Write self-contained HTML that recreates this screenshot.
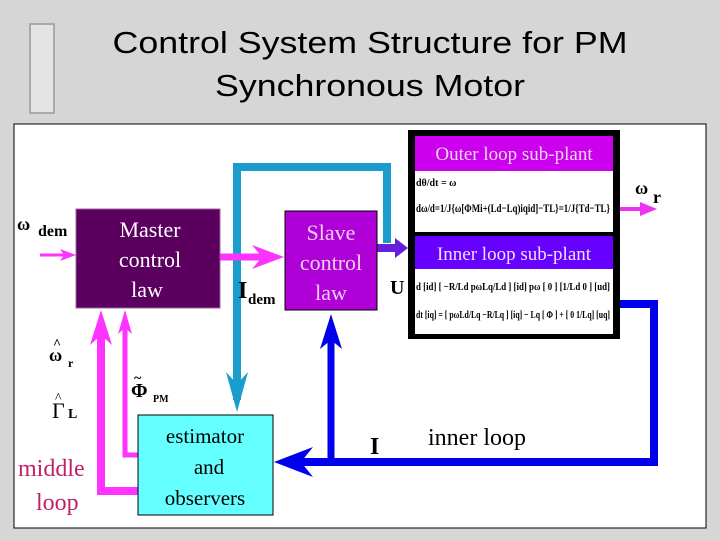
<!DOCTYPE html>
<html><head><meta charset="utf-8"><style>
html,body{margin:0;padding:0;width:720px;height:540px;overflow:hidden;background:#d9d9d9;}
svg{display:block}
</style></head><body>
<svg width="720" height="540" viewBox="0 0 720 540" xmlns="http://www.w3.org/2000/svg" font-family="Liberation Serif, serif">
<rect width="720" height="540" fill="#d6d6d6"/>
<rect x="30" y="24" width="24" height="89" fill="#e4e4e4" stroke="#aaa" stroke-width="2"/>
<text x="370" y="53" font-family="Liberation Sans, sans-serif" font-size="31" text-anchor="middle" fill="#000" textLength="515" lengthAdjust="spacingAndGlyphs">Control System Structure for PM</text>
<text x="370" y="96" font-family="Liberation Sans, sans-serif" font-size="31" text-anchor="middle" fill="#000" textLength="310" lengthAdjust="spacingAndGlyphs">Synchronous Motor</text>
<rect x="14" y="124" width="692" height="404" fill="#fff" stroke="#000" stroke-width="1"/>

<polyline points="237,400 237,167 387,167 387,243" fill="none" stroke="#1a9ccc" stroke-width="8"/>
<polygon points="226,372 237,412 248,372 237,384" fill="#1a9ccc"/>

<polyline points="620,304 654,304 654,462 290,462" fill="none" stroke="#0000ee" stroke-width="8"/>
<polygon points="274,462 313,447 301,462 313,477" fill="#0000ee"/>
<line x1="331" y1="462" x2="331" y2="330" stroke="#0000ee" stroke-width="7"/>
<polygon points="320,349 331,314 342,349 331,340" fill="#0000ee"/>

<polyline points="138,491 101,491 101,325" fill="none" stroke="#ff33ff" stroke-width="8"/>
<polygon points="90,345 101,310 112,345 101,335" fill="#ff33ff"/>
<polyline points="138,455 125,455 125,320" fill="none" stroke="#ff33ff" stroke-width="5"/>
<polygon points="118,334 125,310 132,334 125,328" fill="#ff33ff"/>

<line x1="40" y1="255" x2="70" y2="255" stroke="#ff33ff" stroke-width="3"/>
<polygon points="60,249 76,255 60,261 64,255" fill="#ff33ff"/>
<line x1="220" y1="257" x2="270" y2="257" stroke="#ff33ff" stroke-width="7"/>
<polygon points="252,245 284,257 252,269 262,257" fill="#ff33ff"/>
<line x1="377" y1="248" x2="398" y2="248" stroke="#6620dd" stroke-width="8"/>
<polygon points="395,238 408,248 395,258" fill="#6620dd"/>
<line x1="620" y1="209" x2="645" y2="209" stroke="#ee33ee" stroke-width="4"/>
<polygon points="640,202 657,209 640,216" fill="#ee33ee"/>

<rect x="76" y="209" width="144" height="99" fill="#5c0060" stroke="#a060a0" stroke-width="1"/>
<text x="150" y="237" font-size="22" fill="#fff" text-anchor="middle">Master</text>
<text x="150" y="267" font-size="22" fill="#fff" text-anchor="middle">control</text>
<text x="147" y="297" font-size="22" fill="#fff" text-anchor="middle">law</text>

<rect x="285" y="211" width="92" height="99" fill="#b000d8" stroke="#000" stroke-width="1"/>
<text x="331" y="240" font-size="22" fill="#f0d0f0" text-anchor="middle">Slave</text>
<text x="331" y="270" font-size="22" fill="#f0d0f0" text-anchor="middle">control</text>
<text x="331" y="300" font-size="22" fill="#f0d0f0" text-anchor="middle">law</text>

<rect x="138" y="415" width="135" height="100" fill="#66ffff" stroke="#000" stroke-width="1"/>
<text x="205" y="443" font-size="21" fill="#000" text-anchor="middle">estimator</text>
<text x="209" y="474" font-size="21" fill="#000" text-anchor="middle">and</text>
<text x="205" y="505" font-size="21" fill="#000" text-anchor="middle">observers</text>

<rect x="408" y="130" width="212" height="209" fill="#000"/>
<rect x="415" y="136" width="198" height="96" fill="#fff"/>
<rect x="415" y="136" width="198" height="35" fill="#cc00ee"/>
<text x="514" y="160" font-size="19" fill="#f0d8f0" text-anchor="middle">Outer loop sub-plant</text>
<text x="416" y="186" font-size="10" font-weight="bold" fill="#000">dθ/dt = ω</text>
<text x="416" y="212" font-size="12" font-weight="bold" fill="#000" textLength="194" lengthAdjust="spacingAndGlyphs">dω/d=1/J{ω[ΦMi+(Ld−Lq)iqid]−TL}=1/J{Td−TL}</text>
<rect x="415" y="236" width="198" height="98" fill="#fff"/>
<rect x="415" y="236" width="198" height="33" fill="#6600ff"/>
<text x="514" y="260" font-size="19" fill="#f0e0ff" text-anchor="middle">Inner loop sub-plant</text>
<text x="416" y="290" font-size="11" font-weight="bold" fill="#000" textLength="194" lengthAdjust="spacingAndGlyphs">d  [id]   [ −R/Ld   pωLq/Ld ] [id]   pω [ 0 ]   [1/Ld  0 ] [ud]</text>
<text x="416" y="318" font-size="11" font-weight="bold" fill="#000" textLength="194" lengthAdjust="spacingAndGlyphs">dt [iq] = [ pωLd/Lq  −R/Lq ] [iq] − Lq [ Φ ] + [ 0  1/Lq] [uq]</text>

<text x="17" y="230" font-size="18" font-weight="bold">ω</text>
<text x="38" y="236" font-size="16" font-weight="bold">dem</text>
<text x="238" y="298" font-size="24" font-weight="bold">I</text>
<text x="248" y="304" font-size="15" font-weight="bold">dem</text>
<text x="390" y="294" font-size="20" font-weight="bold">U</text>
<text x="635" y="194" font-size="18" font-weight="bold">ω</text>
<text x="653" y="203" font-size="18" font-weight="bold">r</text>
<text x="49" y="361" font-size="18" font-weight="bold">ω</text>
<text x="53" y="348" font-size="14" font-weight="bold">^</text>
<text x="68" y="367" font-size="12" font-weight="bold">r</text>
<text x="52" y="418" font-size="22">Γ</text>
<text x="55" y="402" font-size="14">^</text>
<text x="68" y="418" font-size="14" font-weight="bold">L</text>
<text x="131" y="397" font-size="20" font-weight="bold">Φ</text>
<text x="134" y="382" font-size="14" font-weight="bold">~</text>
<text x="153" y="402" font-size="10" font-weight="bold">PM</text>
<text x="18" y="476" font-size="24" fill="#c0206a">middle</text>
<text x="36" y="510" font-size="24" fill="#c0206a">loop</text>
<text x="370" y="454" font-size="24" font-weight="bold">I</text>
<text x="428" y="445" font-size="24">inner loop</text>
</svg>
</body></html>
